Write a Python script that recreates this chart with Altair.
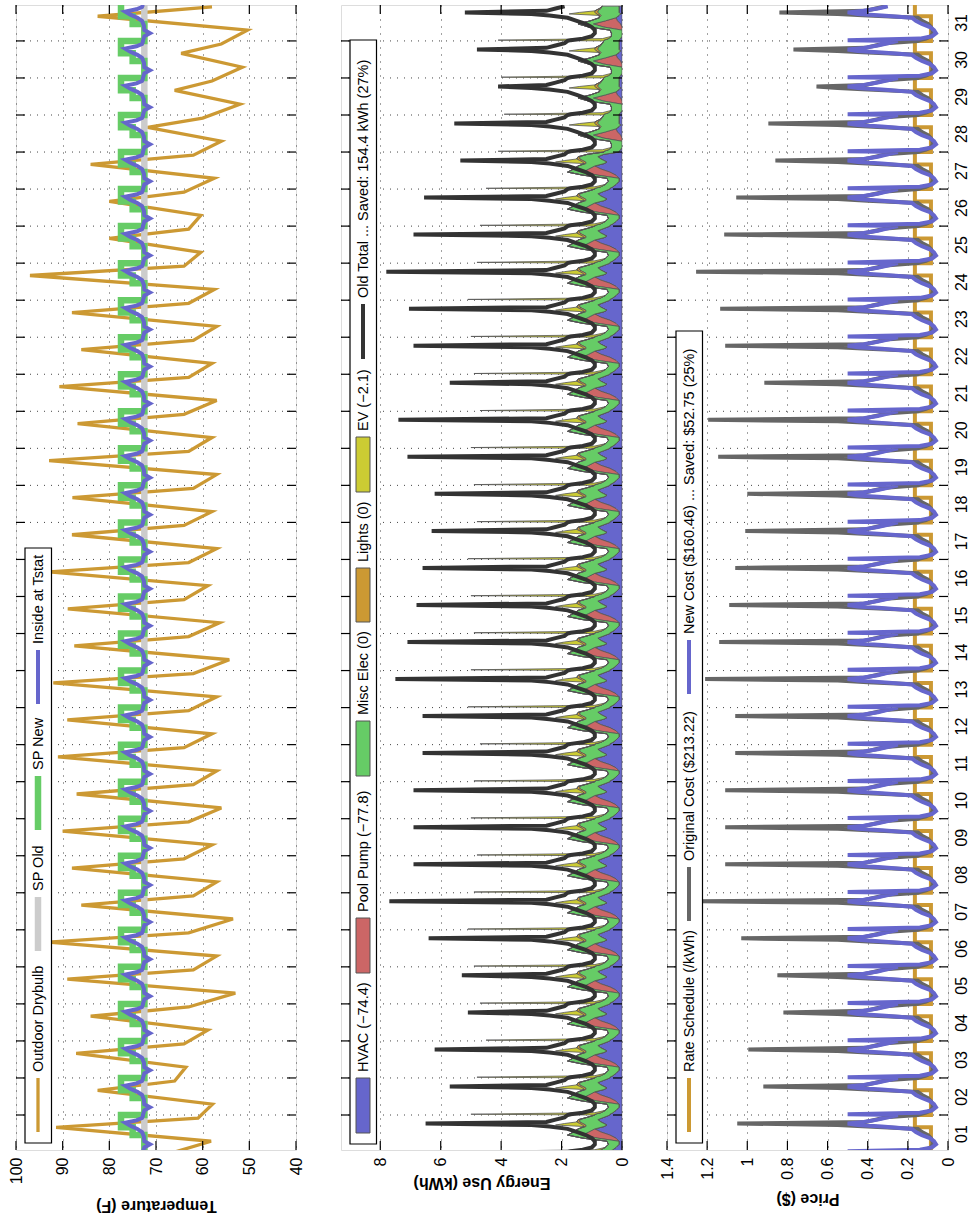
import altair as alt
import pandas as pd

# ---------------------------------------------------------------- data
DAYS = list(range(1, 32))
T_START, T_END = 1.055, 31.97

# Outdoor drybulb (F): daily low (~07h), high (~16h) and late evening (~22h)
OUT_HOURS = [7, 16, 22]
OUT_LOW = [58.2, 57.9, 63.6, 58.9, 53.0, 57.0, 53.5, 57.0, 58.0, 56.0, 57.0, 58.0, 57.0, 54.3, 56.4,
           58.9, 57.0, 58.0, 57.0, 58.0, 57.0, 58.0, 57.0, 57.5, 60.4, 60.4, 57.5, 56.0, 52.0, 51.5, 50.4]
OUT_HIGH = [91.4, 82.5, 87.1, 84.0, 89.0, 93.0, 86.0, 88.0, 90.0, 87.0, 91.0, 89.0, 92.0, 87.5, 88.9,
            92.9, 88.0, 87.9, 92.9, 86.8, 90.7, 86.0, 88.0, 97.0, 80.0, 80.0, 84.0, 71.8, 66.0, 64.6, 82.5]
OUT_EVE = [61.0, 66.0, 64.0, 63.0, 62.0, 63.0, 62.0, 64.0, 63.0, 62.0, 64.0, 63.0, 62.0, 63.0, 64.0,
           63.0, 64.0, 62.0, 63.0, 64.0, 63.0, 62.0, 63.0, 64.0, 63.0, 64.0, 62.0, 60.0, 58.0, 56.0, 58.0]
OUT_FIRST = 66.0

# thermostat setpoint schedules (start hour, F)
SP_OLD_SCHED = [(0, 72.5)]
SP_NEW_SCHED = [(0, 72.5), (11, 75.0), (16, 77.5)]
# inside temperature at the thermostat, typical day (hour, F)
INSIDE_DAY = [(0, 72.8), (3, 72.5), (5, 71.3), (7, 72.5), (10, 72.6), (13, 73.0),
              (15, 74.0), (17, 75.5), (19, 76.6), (20.5, 74.2), (22, 73.0), (23.5, 72.8)]

# Energy use (kWh) on a common grid of hours for each day
E_HOURS = [0, 0.5, 1.5, 3, 5, 7, 9, 11, 13, 15, 16.5, 17.5, 18.5, 19.5, 21, 22.5]
HVAC_HOT = [0.4, 0.4, 0.3, 0.2, 0.1, 0.1, 0.2, 0.4, 0.7, 0.9, 0.6, 0.5, 0.6, 0.7, 0.8, 0.6]
HVAC_COOL = [0.1, 0.1, 0.05, 0.0, 0.0, 0.0, 0.0, 0.05, 0.15, 0.2, 0.1, 0.05, 0.1, 0.1, 0.1, 0.1]
COOL_DAYS = [28, 29, 30, 31]
POOL_DAY = [0.0, 0.0, 0.0, 0.0, 0.0, 0.0, 0.6, 0.9, 0.4, 0.0, 0.0, 0.0, 0.0, 0.0, 0.0, 0.0]
MISC_DAY = [0.5, 0.5, 0.4, 0.35, 0.35, 0.4, 0.5, 0.5, 0.5, 0.55, 0.6, 0.7, 0.7, 0.7, 0.6, 0.55]
LIGHTS_DAY = [0.0, 0.0, 0.0, 0.0, 0.0, 0.0, 0.0, 0.0, 0.0, 0.0, 0.05, 0.1, 0.1, 0.1, 0.05, 0.0]
EV_DAY = [0.0, None, 0.2, 0.0, 0.0, 0.0, 0.0, 0.0, 0.0, 0.0, 0.0, 0.9, 0.5, 0.0, 0.0, 0.0]
EV_NIGHT = [3.8, 4.1, 3.9, 3.6, 3.8, 4.0, 4.2, 4.0, 3.9, 4.1, 4.0, 3.8, 4.2, 4.1, 4.0,
            4.1, 4.2, 3.9, 4.0, 4.1, 3.8, 4.0, 4.1, 4.2, 3.9, 3.8, 3.6, 3.5, 3.3, 3.4, 3.5]
OLD_DAY = [1.8, 1.7, 1.3, 1.0, 0.9, 0.9, 1.0, 1.2, 1.5, 1.8, 2.4, 3.0, None, 2.5, 2.2, 1.9]
OLD_PEAK = [6.5, 5.7, 6.2, 5.1, 5.3, 6.4, 7.7, 6.9, 6.9, 6.9, 6.6, 6.6, 7.5, 7.1, 6.8,
            6.6, 6.3, 6.2, 7.1, 7.4, 5.7, 6.9, 7.05, 7.8, 6.9, 6.55, 5.35, 5.55, 4.1, 4.8, 5.2]

# Price ($)
RATE_SCHED = [(0, 0.085), (16, 0.165)]
ORIG_DAY = [0.15, 0.14, 0.11, 0.085, 0.077, 0.077, 0.085, 0.10, 0.13, 0.15, 0.40, 0.55, None, 0.41, 0.36, 0.31]
ORIG_PEAK = [1.05, 0.92, 0.995, 0.82, 0.85, 1.03, 1.24, 1.11, 1.11, 1.11, 1.06, 1.06, 1.21, 1.14, 1.09,
             1.06, 1.01, 1.0, 1.145, 1.195, 0.915, 1.11, 1.135, 1.255, 1.115, 1.055, 0.86, 0.895, 0.655, 0.77, 0.84]
NEW_DAY = [0.25, 0.50, 0.14, 0.08, 0.06, 0.07, 0.09, 0.13, 0.16, 0.18, 0.33, 0.45, 0.50, 0.42, 0.35, 0.30]

ENERGY_NAMES = ["HVAC", "Pool Pump", "Misc Elec", "Lights", "EV"]
ENERGY_COLORS = ["#6666CC", "#CC6666", "#66CC66", "#CC9933", "#CCCC33"]

TEMP_LEGEND = ["Outdoor Drybulb", "SP Old", "SP New", "Inside at Tstat"]
ENERGY_LEGEND = ["HVAC (\u221274.4)", "Pool Pump (\u221277.8)", "Misc Elec (0)", "Lights (0)",
                 "EV (\u22122.1)", "Old Total ... Saved: 154.4 kWh (27%)"]
PRICE_LEGEND = ["Rate Schedule (/kWh)", "Original Cost ($213.22)",
                "New Cost ($160.46) ... Saved: $52.75 (25%)"]

# ---------------------------------------------------------------- tables
def daily_points(hours, per_day_lists):
    rows = []
    for i, d in enumerate(DAYS):
        for h, vals in zip(hours, per_day_lists):
            rows.append((d + h / 24.0, vals[i]))
    return rows


def series_frame(rows):
    df = pd.DataFrame(rows, columns=["t", "v"])
    df = df.sort_values("t", kind="stable").reset_index(drop=True)
    df["i"] = range(len(df))
    return df


def step_frame(sched):
    rows = []
    for d in DAYS:
        for k, (h, v) in enumerate(sched):
            h_end = sched[k + 1][0] if k + 1 < len(sched) else 24
            rows.append((d + h / 24.0, v))
            rows.append((d + h_end / 24.0, v))
    df = pd.DataFrame(rows, columns=["t", "v"])
    df["i"] = range(len(df))
    return df


def repeat_day(pairs):
    rows = []
    for d in DAYS:
        for h, v in pairs:
            rows.append((d + h / 24.0, v))
    return series_frame(rows)


def fill(template, value):
    return [value if x is None else x for x in template]


out_rows = [(1.0, OUT_FIRST)] + daily_points(OUT_HOURS, [OUT_LOW, OUT_HIGH, OUT_EVE])
outdoor_df = series_frame(out_rows)
sp_old_df = step_frame(SP_OLD_SCHED)
sp_new_df = step_frame(SP_NEW_SCHED)
inside_df = repeat_day(INSIDE_DAY)

erows = []
old_rows, orig_rows, new_rows = [], [], []
for d_i, d in enumerate(DAYS):
    hvac = HVAC_COOL if d in COOL_DAYS else HVAC_HOT
    ev = fill(EV_DAY, EV_NIGHT[d_i])
    old = fill(OLD_DAY, OLD_PEAK[d_i])
    orig = fill(ORIG_DAY, ORIG_PEAK[d_i])
    comps = [hvac, POOL_DAY, MISC_DAY, LIGHTS_DAY, ev]
    for h_i, h in enumerate(E_HOURS):
        t = d + h / 24.0
        for k, comp in enumerate(comps):
            erows.append({"t": t, "v": comp[h_i], "comp": ENERGY_NAMES[k], "k": k})
        old_rows.append((t, old[h_i]))
        orig_rows.append((t, orig[h_i]))
        new_rows.append((t, NEW_DAY[h_i]))
energy_df = pd.DataFrame(erows)
old_df = series_frame(old_rows)
orig_df = series_frame(orig_rows)
new_df = series_frame(new_rows)
rate_df = step_frame(RATE_SCHED)

day_ticks = pd.DataFrame({"t": list(range(2, 32))})
one = pd.DataFrame({"a": [0]})

# ---------------------------------------------------------------- styling
FONT = "Liberation Sans"
LEG_FS = 14.5
H = 1145
W = [280, 281, 281]
TICK = 9
GRID_DASH = [1, 6]
GRID_COLOR = "#444444"

yscale = alt.Scale(domain=[T_START, T_END], nice=False, zero=False)


def value_axis(values, title, title_y, fmt=None):
    kw = dict(
        values=values, orient="bottom", grid=True, gridDash=GRID_DASH, gridColor=GRID_COLOR,
        gridOpacity=1, ticks=False, domain=False, labelAngle=270, labelAlign="right",
        labelBaseline="middle", labelPadding=7, labelFont=FONT, labelFontSize=16,
        labelColor="black", title=title, titleFont=FONT, titleFontSize=16,
        titleFontWeight="bold", titleAngle=180, titleBaseline="bottom",
        titleAlign="center", titleY=title_y, titleColor="black", labelOverlap=False,
        labelFlush=False,
    )
    if fmt:
        kw["labelExpr"] = fmt
    return alt.Axis(**kw)


DAY_AXIS = alt.Axis(
    orient="right", values=[d + 0.5 for d in DAYS], grid=False, ticks=False, domain=False,
    labelAngle=270, labelAlign="center", labelBaseline="top", labelPadding=5,
    labelFont=FONT, labelFontSize=16, labelColor="black", title=None,
    labelExpr="format(floor(datum.value), '02d')", labelOverlap=False, labelFlush=False)


class Panel:
    """One row of the figure, drawn with time running upwards."""

    def __init__(self, width, vscale, vaxis, ticks, day_axis=None):
        self.width = width
        self.vscale = vscale
        self.vaxis = vaxis
        self.ticks = ticks
        self.day_axis = day_axis

    def x(self, field="v:Q", **kw):
        return alt.X(field, scale=self.vscale, axis=self.vaxis, **kw)

    def y(self):
        return alt.Y("t:Q", scale=yscale, axis=self.day_axis)

    def grid(self):
        return alt.Chart(day_ticks).mark_rule(
            strokeDash=GRID_DASH, color=GRID_COLOR, strokeWidth=1
        ).encode(y=self.y(), x=alt.value(0), x2=alt.value(self.width))

    def frame_ticks(self):
        w = self.width
        out = []
        for a, b in [(0, TICK), (w - TICK, w)]:
            out.append(alt.Chart(day_ticks).mark_rule(color="black", strokeWidth=1.2).encode(
                y=self.y(), x=alt.value(a), x2=alt.value(b)))
        vt = pd.DataFrame({"v": self.ticks})
        for a, b in [(0, TICK), (H - TICK, H)]:
            out.append(alt.Chart(vt).mark_rule(color="black", strokeWidth=1.2).encode(
                x=self.x(), y=alt.value(a), y2=alt.value(b)))
        return out

    def line(self, df, color, width):
        return alt.Chart(df).mark_line(color=color, strokeWidth=width, clip=True,
                                       strokeJoin="miter", strokeCap="butt").encode(
            x=self.x(), y=self.y(), order="i:Q")


def legend_box(y0, y1):
    return alt.Chart(one).mark_rect(fill="white", stroke="black", strokeWidth=1.2).encode(
        x=alt.value(9), x2=alt.value(35.5), y=alt.value(y0), y2=alt.value(y1))


def legend_line(y0, y1, color, width):
    return alt.Chart(one).mark_rule(color=color, strokeWidth=width).encode(
        x=alt.value(22), y=alt.value(y0), y2=alt.value(y1))


def legend_patch(y0, y1, color):
    return alt.Chart(one).mark_rect(fill=color, stroke="#555555", strokeWidth=1).encode(
        x=alt.value(15), x2=alt.value(29), y=alt.value(y0), y2=alt.value(y1))


def legend_text(y, label):
    return alt.Chart(one).mark_text(
        angle=270, align="left", baseline="middle", font=FONT, fontSize=LEG_FS, color="black"
    ).encode(x=alt.value(22.5), y=alt.value(y), text=alt.value(label))


# ---------------------------------------------------------------- panel 1: temperature
TEMP_TICKS = [100, 90, 80, 70, 60, 50, 40]
p1 = Panel(W[0], alt.Scale(domain=[40, 100], reverse=True, nice=False, zero=False),
           value_axis(TEMP_TICKS, "Temperature (F)", 47), TEMP_TICKS)
temp_layers = [
    p1.grid(),
    p1.line(outdoor_df, "#CC9933", 3.3),
    p1.line(sp_old_df, "#CCCCCC", 6.5),
    p1.line(sp_new_df, "#66CC66", 6.5),
    p1.line(inside_df, "#6666CC", 4),
] + p1.frame_ticks()
temp_layers.append(legend_box(543, 1138))
temp_items = [((1073, 1127), 1067, "#CC9933", 3.3), ((892, 946), 886, "#CCCCCC", 6.5),
              ((771, 825), 765, "#66CC66", 6.5), ((645, 699), 639, "#6666CC", 4)]
for k, ((a, b), ty, col, lw) in enumerate(temp_items):
    temp_layers += [legend_line(a, b, col, lw), legend_text(ty, TEMP_LEGEND[k])]
panel1 = alt.layer(*temp_layers).properties(width=W[0], height=H)

# ---------------------------------------------------------------- panel 2: energy
ENERGY_TICKS = [8, 6, 4, 2, 0]
p2 = Panel(W[1], alt.Scale(domain=[0, 9.3], reverse=True, nice=False, zero=True),
           value_axis(ENERGY_TICKS, "Energy Use (kWh)", 24), ENERGY_TICKS)
areas = alt.Chart(energy_df).mark_area(orient="horizontal", clip=True, stroke="#555555",
                                        strokeWidth=0.8).encode(
    y=p2.y(),
    x=p2.x(stack="zero"),
    color=alt.Color("comp:N", scale=alt.Scale(domain=ENERGY_NAMES, range=ENERGY_COLORS),
                    legend=None),
    order=alt.Order("k:Q", sort="ascending"),
)
energy_layers = [p2.grid(), areas, p2.line(old_df, "#333333", 4)] + p2.frame_ticks()
energy_layers.append(legend_box(35, 1139))
e_patch_y = [(1073, 1128), (913, 968), (716, 771), (563, 617), (432, 487)]
e_text_y = [1067, 907, 710, 557, 426]
for k, (a, b) in enumerate(e_patch_y):
    energy_layers += [legend_patch(a, b, ENERGY_COLORS[k]),
                      legend_text(e_text_y[k], ENERGY_LEGEND[k])]
energy_layers += [legend_line(299, 354, "#333333", 4), legend_text(293, ENERGY_LEGEND[5])]
panel2 = alt.layer(*energy_layers).properties(width=W[1], height=H)

# ---------------------------------------------------------------- panel 3: price
PRICE_TICKS = [1.4, 1.2, 1.0, 0.8, 0.6, 0.4, 0.2, 0.0]
p3 = Panel(W[2], alt.Scale(domain=[0, 1.4], reverse=True, nice=False, zero=True),
           value_axis(PRICE_TICKS, "Price ($)", 40,
                      "datum.value == 0 ? '0' : datum.value == 1 ? '1' : format(datum.value, '.1f')"),
           PRICE_TICKS, day_axis=DAY_AXIS)
price_layers = [
    p3.grid(),
    p3.line(rate_df, "#CC9933", 4),
    p3.line(orig_df, "#666666", 4),
    p3.line(new_df, "#6666CC", 4),
] + p3.frame_ticks()
price_layers.append(legend_box(326, 1138))
price_items = [((1073, 1127), 1067, "#CC9933"), ((862, 916), 856, "#666666"),
               ((635, 689), 629, "#6666CC")]
for k, ((a, b), ty, col) in enumerate(price_items):
    price_layers += [legend_line(a, b, col, 4), legend_text(ty, PRICE_LEGEND[k])]
panel3 = alt.layer(*price_layers).properties(width=W[2], height=H)

chart = alt.hconcat(panel1, panel2, panel3, spacing=45, bounds="flush").properties(
    padding={"left": 7, "top": 3, "right": 0, "bottom": 0}
).configure_view(stroke="black", strokeWidth=1.5).configure(background="white")

chart.save("out.html", embed_options={"renderer": "svg", "actions": False})
